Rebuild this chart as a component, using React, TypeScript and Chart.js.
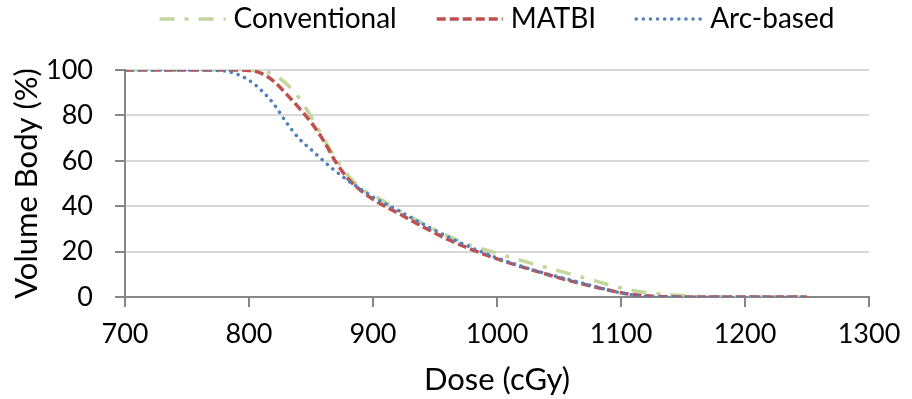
import React, { useEffect, useRef } from "react";
import { Chart, registerables } from "chart.js";

Chart.register(...registerables);

const doses = [700, 750, 780, 790, 800, 810, 820, 830, 840, 850, 860, 870, 880, 890, 900, 920, 940, 960, 980, 1000, 1020, 1040, 1060, 1080, 1100, 1120, 1140, 1160, 1180, 1200, 1250];

const conventional = [100, 100, 100, 100, 100, 99.5, 98, 94, 88, 79.5, 70, 61, 53.5, 48, 45, 38.5, 32.5, 27, 22.5, 19.3, 16, 13, 10, 7, 4, 2, 1, 0.3, 0.1, 0, 0];
const matbi = [100, 100, 100, 100, 99.8, 98.5, 95, 89.5, 83.5, 77, 69, 59.5, 52, 47, 43, 37, 31, 25.5, 20.8, 16.8, 13.3, 10, 7, 4.3, 1.9, 0.5, 0.1, 0, 0, 0, 0];
const arcBased = [100, 100, 99.6, 98.2, 95.5, 91, 85, 77, 70, 65, 60, 55.4, 51.2, 47.6, 44, 38.2, 32.2, 26.6, 21.6, 17.2, 13.5, 10.2, 7.4, 4.5, 1.8, 0.3, 0.1, 0, 0, 0, 0];

const seriesNames = ["Conventional", "MATBI", "Arc-based"];
const xTicks = [700, 800, 900, 1000, 1100, 1200, 1300];
const yTicks = [0, 20, 40, 60, 80, 100];

const FONT = "Lato, 'Open Sans', sans-serif";

export default function App() {
  const ref = useRef<HTMLCanvasElement | null>(null);
  useEffect(() => {
    if (!ref.current) return;
    const customLegend = {
      id: "customLegend",
      afterDraw(chart: any) {
        const ctx = chart.ctx;
        const area = chart.chartArea;
        const sampleW = 66;
        const sampleGap = 8;
        const itemGap = 40;
        const cy = 19;
        ctx.save();
        ctx.font = `28px ${FONT}`;
        const items = chart.data.datasets.map((ds: any) => ({
          ds,
          tw: ctx.measureText(ds.label).width,
        }));
        const total =
          items.reduce((s: number, it: any) => s + sampleW + sampleGap + it.tw, 0) +
          itemGap * (items.length - 1);
        let x = (area.left + area.right) / 2 - total / 2;
        for (const it of items) {
          const ds = it.ds;
          ctx.save();
          ctx.strokeStyle = ds.borderColor;
          ctx.lineWidth = ds.borderWidth;
          ctx.lineCap = ds.borderCapStyle || "butt";
          ctx.setLineDash(ds.borderDash || []);
          ctx.beginPath();
          ctx.moveTo(x, cy);
          ctx.lineTo(x + sampleW, cy);
          ctx.stroke();
          ctx.restore();
          x += sampleW + sampleGap;
          ctx.fillStyle = "#000";
          ctx.textBaseline = "middle";
          ctx.textAlign = "left";
          ctx.fillText(ds.label, x, cy);
          x += it.tw + itemGap;
        }
        ctx.restore();
      },
    };
    const mk = (vals: number[]) => doses.map((d, i) => ({ x: d, y: vals[i] }));
    const chart = new Chart(ref.current, {
      type: "line",
      data: {
        datasets: [
          {
            label: seriesNames[0],
            data: mk(conventional),
            borderColor: "#c3d69b",
            backgroundColor: "#c3d69b",
            borderWidth: 3.5,
            borderDash: [15, 10, 4, 10],
            pointRadius: 0,
            cubicInterpolationMode: "monotone",
            order: 3,
          },
          {
            label: seriesNames[1],
            data: mk(matbi),
            borderColor: "#c0504d",
            backgroundColor: "#c0504d",
            borderWidth: 3.5,
            borderDash: [9, 4],
            pointRadius: 0,
            cubicInterpolationMode: "monotone",
            order: 2,
          },
          {
            label: seriesNames[2],
            data: mk(arcBased),
            borderColor: "#4f81bd",
            backgroundColor: "#4f81bd",
            borderWidth: 3.5,
            borderDash: [0.1, 7],
            borderCapStyle: "round",
            pointRadius: 0,
            cubicInterpolationMode: "monotone",
            order: 1,
          },
        ],
      },
      options: {
        animation: false,
        responsive: false,
        layout: { padding: { top: 70, right: 43, left: 0, bottom: 0 } },
        plugins: {
          tooltip: { enabled: false },
          legend: { display: false },
        },
        scales: {
          x: {
            type: "linear",
            min: 700,
            max: 1300,
            afterBuildTicks: (s: any) => {
              s.ticks = xTicks.map((v) => ({ value: v }));
            },
            afterFit: (s: any) => {
              s.height = 102;
            },
            grid: { drawOnChartArea: false, tickLength: 10, tickColor: "#868686", lineWidth: 2 },
            border: { color: "#868686", width: 2 },
            ticks: {
              color: "#000",
              font: { family: FONT, size: 27 },
              padding: 11,
              maxRotation: 0,
              callback: (v: any) => String(v),
            },
            title: { display: true, text: "Dose (cGy)", color: "#000", font: { family: FONT, size: 31 }, padding: { top: 0, bottom: 0 } },
          },
          y: {
            min: 0,
            max: 100,
            afterBuildTicks: (s: any) => {
              s.ticks = yTicks.map((v) => ({ value: v }));
            },
            afterFit: (s: any) => {
              s.width = 125;
            },
            grid: { color: "#d9d9d9", lineWidth: 2, tickLength: 10, tickColor: "#868686" },
            border: { color: "#868686", width: 2 },
            ticks: {
              color: "#000",
              font: { family: FONT, size: 27 },
              padding: 22,
              callback: (v: any) => String(v),
            },
            title: { display: true, text: "Volume Body (%)", color: "#000", font: { family: FONT, size: 31 }, padding: { top: 8, bottom: 0 } },
          },
        },
      },
      plugins: [customLegend],
    } as any);
    return () => chart.destroy();
  }, []);
  return (
    <canvas
      ref={ref}
      width={912}
      height={399}
      style={{ position: "absolute", left: 0, top: 0, display: "block", background: "#fff" }}
    />
  );
}
